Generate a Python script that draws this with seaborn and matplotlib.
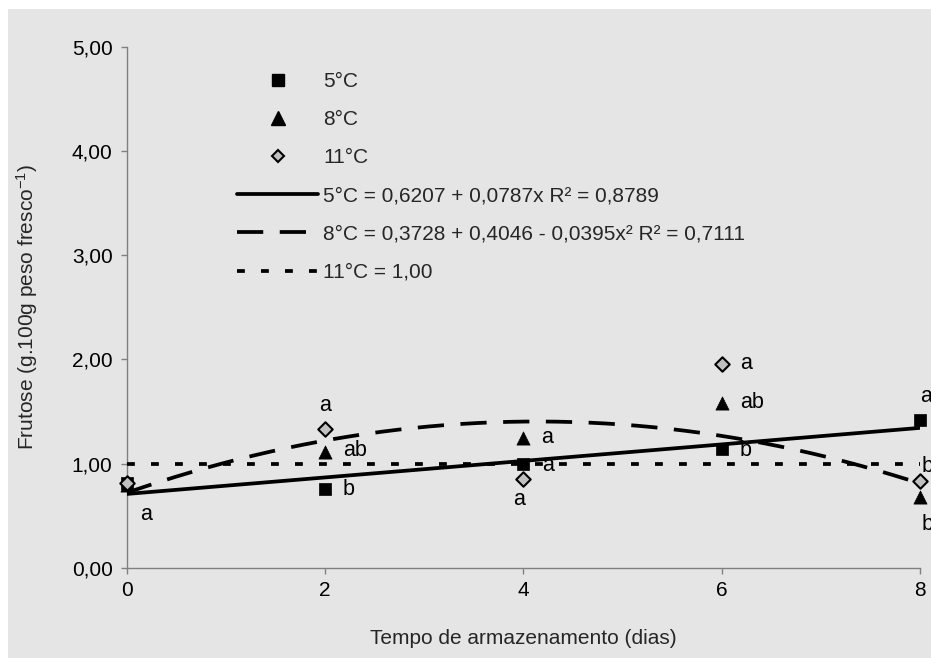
import numpy as np
import pandas as pd
import matplotlib
matplotlib.use("Agg")
import matplotlib.pyplot as plt
import seaborn as sns
from matplotlib.lines import Line2D
from matplotlib.patches import Rectangle

# ---------------- data ----------------
dias = [0, 2, 4, 6, 8]
frutose_5 = [0.82, 0.755, 1.00, 1.14, 1.42]
frutose_8 = [0.80, 1.115, 1.25, 1.58, 0.68]
frutose_11 = [0.82, 1.33, 0.85, 1.96, 0.83]
media_11 = 1.00

letras_5 = ["a", "b", "a", "b", "a"]
letras_8 = ["", "ab", "a", "ab", "b"]
letras_11 = ["", "a", "a", "a", "b"]

legend_labels = [
    "5°C", "8°C", "11°C",
    "5°C = 0,6207 + 0,0787x R² = 0,8789",
    "8°C = 0,3728 + 0,4046 - 0,0395x² R² = 0,7111",
    "11°C = 1,00",
]
y_ticks = [0, 1, 2, 3, 4, 5]
y_ticklabels = ["0,00", "1,00", "2,00", "3,00", "4,00", "5,00"]
x_ticks = [0, 2, 4, 6, 8]

# label offsets (pixels, relative to each marker) -- style, not data
off_5 = [(20, -32), (24, 0), (25, -2), (24, -1), (6, 23)]
off_8 = [(0, 0), (30, 1), (24, 0), (30, 1), (8, -27)]
off_11 = [(0, 0), (0, 24), (-4, -20), (24, 0), (8, 15)]

# ---------------- style ----------------
sns.set_style("white")
plt.rcParams["font.family"] = ["Liberation Sans", "DejaVu Sans"]
plt.rcParams["mathtext.fontset"] = "custom"
plt.rcParams["mathtext.rm"] = "Liberation Sans"
plt.rcParams["mathtext.it"] = "Liberation Sans:italic"
plt.rcParams["mathtext.bf"] = "Liberation Sans:bold"

W, H = 931, 658
fig = plt.figure(figsize=(W / 100, H / 100), dpi=100, facecolor="white")
fig.patches.append(Rectangle((8 / W, 0), 1, 1 - 9 / H, transform=fig.transFigure,
                             facecolor="#e5e5e5", edgecolor="none", zorder=-10))
ax = fig.add_axes([126.5 / W, 1 - 568 / H, (920 - 126.5) / W, (568 - 46.7) / H])
ax.set_facecolor("none")

df = pd.DataFrame({"dias": dias, "f5": frutose_5, "f8": frutose_8, "f11": frutose_11})

# trend lines
xs = np.linspace(0, 8, 200)
c5 = np.polyfit(dias, frutose_5, 1)
c8 = np.polyfit(dias, frutose_8, 2)
trend = pd.DataFrame({"x": xs, "t5": np.polyval(c5, xs), "t8": np.polyval(c8, xs),
                      "t11": np.full_like(xs, media_11)})

lw = 2.7
sns.lineplot(data=trend, x="x", y="t5", ax=ax, color="black", lw=lw, zorder=3)
sns.lineplot(data=trend, x="x", y="t8", ax=ax, color="black", lw=lw,
             linestyle=(0, (7, 4.4)), zorder=3)
sns.lineplot(data=trend, x="x", y="t11", ax=ax, color="black", lw=lw,
             linestyle=(0, (2.1, 4.3)), zorder=3)

ms = 90
sns.scatterplot(data=df, x="dias", y="f8", ax=ax, marker="^", color="black",
                s=ms, edgecolor="black", linewidth=0.5, zorder=4, clip_on=False)
sns.scatterplot(data=df, x="dias", y="f5", ax=ax, marker="s", color="black",
                s=ms * 0.85, edgecolor="black", linewidth=0.5, zorder=4, clip_on=False)
sns.scatterplot(data=df, x="dias", y="f11", ax=ax, marker="D", color="#c0c0c0",
                s=ms * 0.6, edgecolor="black", linewidth=1.5, zorder=5, clip_on=False)

# letters
fs_let = 15.5
for vals, lets, offs in [(frutose_5, letras_5, off_5), (frutose_8, letras_8, off_8),
                         (frutose_11, letras_11, off_11)]:
    for xv, yv, t, (dx, dy) in zip(dias, vals, lets, offs):
        if t:
            ax.annotate(t, (xv, yv), xytext=(dx * 0.72, dy * 0.72), textcoords="offset points",
                        ha="center", va="center", fontsize=fs_let, color="black",
                        annotation_clip=False)

# axes
fs = 15
ax.set_xlim(0, 8)
ax.set_ylim(0, 5)
ax.set_xticks(x_ticks)
ax.set_xticklabels([str(v) for v in x_ticks])
ax.set_yticks(y_ticks)
ax.set_yticklabels(y_ticklabels)
for s in ["top", "right"]:
    ax.spines[s].set_visible(False)
for s in ["left", "bottom"]:
    ax.spines[s].set_color("#808080")
    ax.spines[s].set_linewidth(1.0)
ax.tick_params(axis="both", direction="out", length=4, width=1, color="#808080",
               labelsize=fs, labelcolor="black", left=True, bottom=True)
ax.tick_params(axis="x", pad=5)
ax.tick_params(axis="y", pad=6)
ax.set_xlabel("Tempo de armazenamento (dias)", fontsize=fs, labelpad=21)
ax.set_ylabel("Frutose (g.100g peso fresco$^{-1}$)", fontsize=fs, labelpad=23)

# legend
handles = [
    Line2D([], [], marker="s", color="black", ls="none", markersize=8.5),
    Line2D([], [], marker="^", color="black", ls="none", markersize=9.5),
    Line2D([], [], marker="D", markerfacecolor="#c0c0c0", markeredgecolor="black",
           markeredgewidth=1.5, ls="none", markersize=6.5),
    Line2D([], [], color="black", lw=lw),
    Line2D([], [], color="black", lw=lw, ls=(0, (7, 4.4))),
    Line2D([], [], color="black", lw=lw, ls=(0, (2.1, 4.3))),
]
leg = ax.legend(handles, legend_labels, loc="upper left",
                bbox_to_anchor=(236.7 / W, 1 - 72 / H), bbox_transform=fig.transFigure,
                frameon=False, fontsize=fs, handlelength=3.92, handletextpad=0.24,
                labelspacing=0.92, borderpad=0, borderaxespad=0)

fig.savefig("out.png", dpi=100, facecolor="white")
